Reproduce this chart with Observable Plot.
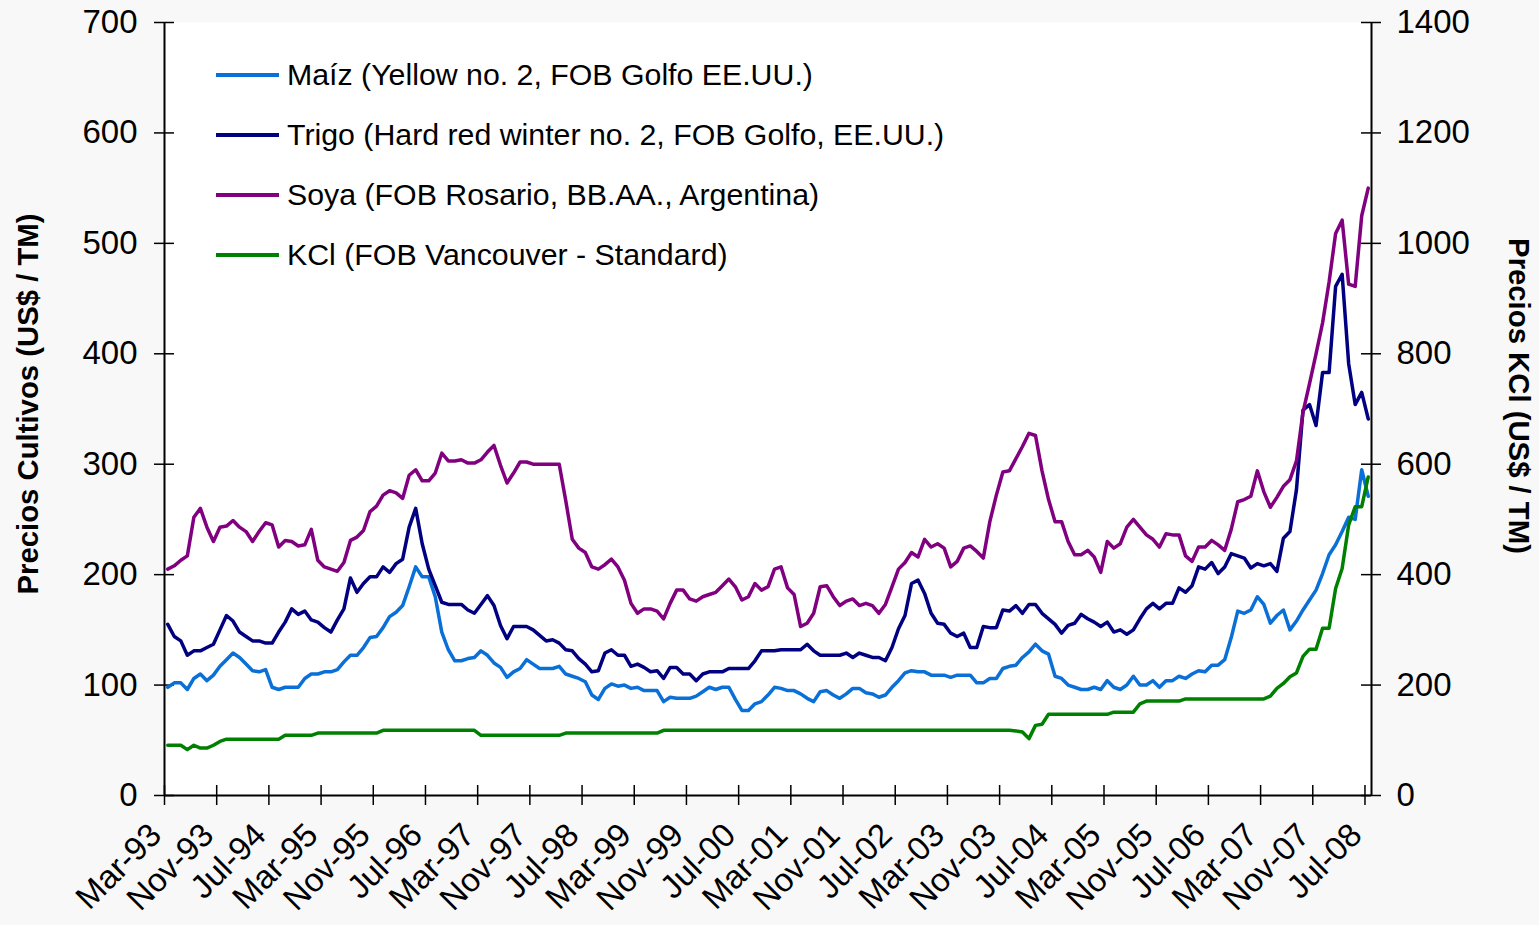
<!DOCTYPE html>
<html><head><meta charset="utf-8">
<script src="https://cdn.jsdelivr.net/npm/d3@7"></script>
<script src="https://cdn.jsdelivr.net/npm/@observablehq/plot@0.6"></script>
<style>
html,body{margin:0;padding:0;background:#f8f8f8;overflow:hidden}
#wrap{position:relative;width:1539px;height:925px;font-family:"Liberation Sans",Arial,sans-serif;color:#000}
#chart{position:absolute;left:0;top:0}
#legend{position:absolute;left:216px;top:45px}
.item{display:flex;align-items:center;height:60px;font-size:30.3px;white-space:nowrap}
.sw{width:63px;height:0;border-top:4px solid;margin-right:8px}
.ytitle{position:absolute;font-weight:bold;font-size:29.3px;white-space:nowrap;transform-origin:center}
</style></head><body><div id="wrap"><div id="chart"></div><div id="legend"></div>
<div class="ytitle" id="tl">Precios Cultivos (US$ / TM)</div>
<div class="ytitle" id="tr">Precios KCl (US$ / TM)</div></div>
<script>
// Monthly series, Mar-93 .. Jul-08 (185 months)
const maiz = [98,102,102,96,106,110,104,109,117,123,
129,125,119,113,112,114,98,96,98,98,
98,106,110,110,112,112,114,121,127,127,
134,143,144,152,162,166,172,189,207,198,
198,180,148,132,122,122,124,125,131,127,
120,116,107,112,115,123,119,115,115,115,
117,110,108,106,103,91,87,97,101,99,
100,97,98,95,95,95,85,89,88,88,
88,90,94,98,96,98,98,87,77,77,
83,85,91,98,97,95,95,92,88,85,
94,95,91,88,92,97,97,93,92,89,
91,98,104,111,113,112,112,109,109,109,
107,109,109,109,102,102,106,106,115,117,
118,125,130,137,131,128,108,106,100,98,
96,96,98,96,104,98,96,100,108,100,
100,104,98,104,104,108,106,110,113,112,
118,118,123,143,167,165,168,180,173,156,
163,168,150,158,168,177,186,201,218,227,
239,252,250,295,271];
const trigo = [155,144,140,127,131,131,134,137,150,163,
158,148,144,140,140,138,138,148,157,169,
164,167,159,157,152,148,159,169,197,184,
192,198,198,207,202,210,214,243,260,228,
205,190,175,173,173,173,168,165,173,181,
172,154,142,153,153,153,150,145,140,141,
138,132,131,124,119,112,113,129,132,127,
127,117,119,116,112,113,106,116,116,110,
110,104,110,112,112,112,115,115,115,115,
122,131,131,131,132,132,132,132,137,131,
127,127,127,127,129,125,129,127,125,125,
122,134,151,163,192,195,183,165,156,155,
147,144,147,134,134,153,152,152,168,167,
172,165,173,173,165,160,155,147,154,156,
164,160,157,153,157,148,150,146,150,160,
169,174,169,174,174,188,184,190,207,205,
211,201,207,219,217,215,206,210,208,210,
203,233,239,277,349,354,335,383,383,461,
472,391,354,365,341];
const soya = [205,208,213,217,252,260,243,230,243,244,
249,243,239,230,239,247,245,225,231,230,
226,227,241,213,207,205,203,211,231,234,
240,257,262,272,276,274,269,290,295,285,
285,292,310,303,303,304,301,301,304,311,
317,299,283,292,302,302,300,300,300,300,
300,267,232,224,220,207,205,209,214,207,
195,174,165,169,169,167,160,174,186,186,
178,176,180,182,184,190,196,189,177,180,
192,186,189,205,207,188,182,153,156,165,
189,190,180,172,176,178,172,174,172,165,
173,189,205,211,220,216,232,225,228,224,
207,212,224,226,221,215,248,272,293,294,
305,316,328,326,294,268,248,248,230,218,
218,222,216,202,230,224,228,243,250,243,
236,232,225,237,236,236,217,212,225,225,
231,227,222,241,266,268,271,294,275,261,
270,280,286,303,347,373,400,428,465,509,
521,463,461,525,550];
// KCl on the right axis (US$ / TM)
const kcl = [91,91,91,83,91,86,86,91,98,102,
102,102,102,102,102,102,102,102,109,109,
109,109,109,113,113,113,113,113,113,113,
113,113,113,118,118,118,118,118,118,118,
118,118,118,118,118,118,118,118,109,109,
109,109,109,109,109,109,109,109,109,109,
109,113,113,113,113,113,113,113,113,113,
113,113,113,113,113,113,118,118,118,118,
118,118,118,118,118,118,118,118,118,118,
118,118,118,118,118,118,118,118,118,118,
118,118,118,118,118,118,118,118,118,118,
118,118,118,118,118,118,118,118,118,118,
118,118,118,118,118,118,118,118,118,118,
117,115,103,127,129,147,147,147,147,147,
147,147,147,147,147,151,151,151,151,166,
171,171,171,171,171,171,175,175,175,175,
175,175,175,175,175,175,175,175,175,180,
194,203,215,222,252,265,265,303,303,375,
411,490,523,523,577];

const tickLabels = ["Mar-93","Nov-93","Jul-94","Mar-95","Nov-95","Jul-96","Mar-97","Nov-97","Jul-98","Mar-99","Nov-99","Jul-00","Mar-01","Nov-01","Jul-02","Mar-03","Nov-03","Jul-04","Mar-05","Nov-05","Jul-06","Mar-07","Nov-07","Jul-08"];
const leftTicks = [0,100,200,300,400,500,600,700];
const seriesNames = ["Maíz (Yellow no. 2, FOB Golfo EE.UU.)","Trigo (Hard red winter no. 2, FOB Golfo, EE.UU.)","Soya (FOB Rosario, BB.AA., Argentina)","KCl (FOB Vancouver - Standard)"];
const seriesColors = ["#0A6FD6","#000080","#800080","#008000"];

const n = maiz.length;
const x0 = -0.5, x1 = n - 0.5;
const boundaryTicks = tickLabels.map((_, k) => k * 8 - 0.5);
const labelTicks = tickLabels.map((_, k) => k * 8);
const font = "Liberation Sans, Arial, sans-serif";

const lines = [maiz, trigo, soya, kcl.map(v => v / 2)];

const chart = Plot.plot({
  width: 1539, height: 925,
  marginLeft: 164, marginRight: 168, marginTop: 22, marginBottom: 130,
  style: {fontFamily: font, background: "transparent", color: "#000", overflow: "visible"},
  x: {type: "linear", domain: [x0, x1], label: null},
  y: {domain: [0, 700], label: null},
  marks: [
    Plot.frame({fill: "white", stroke: null}),
    Plot.ruleY(leftTicks, {y: d => d, x1: x0, x2: x0, insetLeft: -10, insetRight: -10, stroke: "#000", strokeWidth: 1.5}),
    Plot.ruleY(leftTicks, {y: d => d, x1: x1, x2: x1, insetLeft: -10, insetRight: -10, stroke: "#000", strokeWidth: 1.5}),
    Plot.ruleX(boundaryTicks, {x: d => d, y1: 0, y2: 0, insetTop: -10, insetBottom: -10, stroke: "#000", strokeWidth: 1.5}),
    Plot.axisY({ticks: leftTicks, tickSize: 0, tickPadding: 27, fontSize: 33, tickFormat: d => String(d)}),
    Plot.axisY({anchor: "right", ticks: leftTicks, tickSize: 0, tickPadding: 25, fontSize: 33, tickFormat: d => String(d * 2)}),
    Plot.axisX({ticks: labelTicks, tickSize: 0, tickPadding: 34, dx: -12, tickRotate: -45, fontSize: 33,
      tickFormat: d => tickLabels[Math.round(d / 8)]}),
    Plot.ruleX([x0, x1], {stroke: "#000", strokeWidth: 2}),
    Plot.ruleY([0], {stroke: "#000", strokeWidth: 2}),
    ...lines.map((arr, s) => Plot.line(arr, {x: (d, i) => i, y: d => d, stroke: seriesColors[s], strokeWidth: 3.5, strokeLinejoin: "round"}))
  ]
});
document.getElementById("chart").appendChild(chart);

const legend = document.getElementById("legend");
seriesNames.forEach((name, s) => {
  const it = document.createElement("div");
  it.className = "item";
  const sw = document.createElement("span");
  sw.className = "sw";
  sw.style.borderTopColor = seriesColors[s];
  const tx = document.createElement("span");
  tx.textContent = name;
  it.appendChild(sw); it.appendChild(tx);
  legend.appendChild(it);
});

function placeTitle(id, cx, cy, deg) {
  const el = document.getElementById(id);
  const w = el.offsetWidth, h = el.offsetHeight;
  el.style.left = (cx - w / 2) + "px";
  el.style.top = (cy - h / 2) + "px";
  el.style.transform = `rotate(${deg}deg)`;
}
placeTitle("tl", 28, 404, -90);
placeTitle("tr", 1519, 396, 90);
</script></body></html>
